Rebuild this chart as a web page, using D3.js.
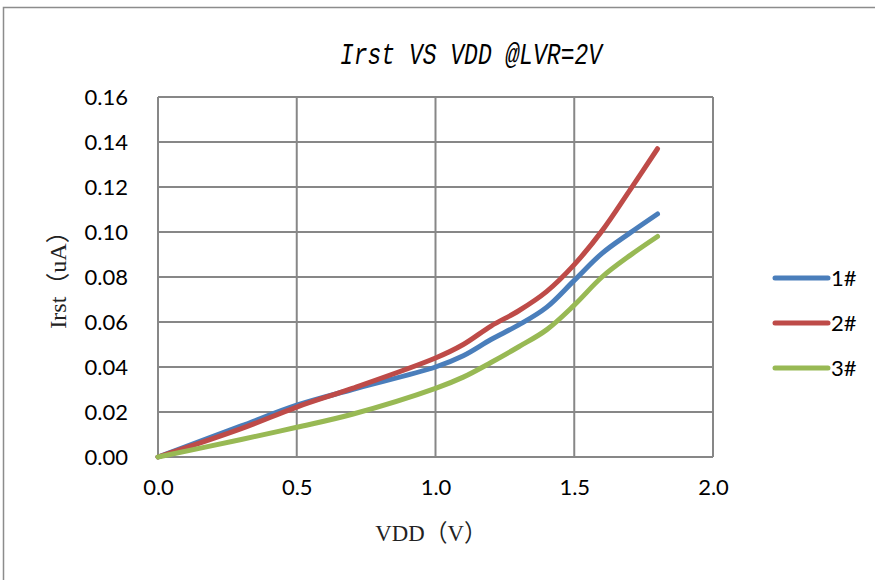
<!DOCTYPE html>
<html>
<head>
<meta charset="utf-8">
<script src="https://cdn.jsdelivr.net/npm/d3@7"></script>
<style>
  html, body { margin: 0; padding: 0; background: #fff; }
  svg { display: block; }
</style>
</head>
<body>
<svg id="chart" width="875" height="580"></svg>
<script>
// ---- data ----
const vdd      = [0, 0.3, 0.5, 0.7, 1.0, 1.1, 1.2, 1.3, 1.4, 1.5, 1.6, 1.7, 1.8];
const s1Values = [0, 0.0138, 0.0230, 0.0300, 0.0400, 0.0450, 0.0522, 0.0587, 0.0665, 0.0785, 0.0905, 0.0995, 0.1080];
const s2Values = [0, 0.0126, 0.0222, 0.0305, 0.0440, 0.0500, 0.0582, 0.0650, 0.0735, 0.0855, 0.1005, 0.1185, 0.1370];
const s3Values = [0, 0.0078, 0.0132, 0.0190, 0.0305, 0.0355, 0.0420, 0.0490, 0.0565, 0.0675, 0.0800, 0.0895, 0.0980];
const seriesNames = ["1#", "2#", "3#"];
const seriesColors = ["#4a7ebb", "#be4b48", "#98b954"];
const xTicks = [0, 0.5, 1.0, 1.5, 2.0];
const yTicks = [0, 0.02, 0.04, 0.06, 0.08, 0.10, 0.12, 0.14, 0.16];
const titleText = "Irst VS VDD @LVR=2V";
const xLabel = "VDD（V）";
const yLabel = "Irst（uA）";

const series = [s1Values, s2Values, s3Values].map((vals, i) => ({
  name: seriesNames[i], color: seriesColors[i],
  points: vdd.map((v, j) => ({ x: v, y: vals[j] }))
}));

// ---- layout ----
const svg = d3.select("#chart");
const plotL = 158, plotR = 713, plotT = 97, plotB = 457;
const x = d3.scaleLinear().domain([0, 2]).range([plotL, plotR]);
const y = d3.scaleLinear().domain([0, 0.16]).range([plotB, plotT]);
const gridColor = "#878787";
const tickFont = "Lato, 'Open Sans', sans-serif";
const labelFont = "'Liberation Serif', 'Noto Sans CJK SC', serif";

// outer chart border
svg.append("rect").attr("x", 3.5).attr("y", 7.5).attr("width", 900).attr("height", 600)
  .attr("fill", "#fff").attr("stroke", "#8c8c8c").attr("stroke-width", 1.5);

// gridlines
svg.append("g").selectAll("line").data(yTicks).join("line")
  .attr("x1", plotL).attr("x2", plotR)
  .attr("y1", d => y(d)).attr("y2", d => y(d))
  .attr("stroke", gridColor).attr("stroke-width", 2);
svg.append("g").selectAll("line").data(xTicks).join("line")
  .attr("y1", plotT).attr("y2", plotB)
  .attr("x1", d => x(d)).attr("x2", d => x(d))
  .attr("stroke", gridColor).attr("stroke-width", 2);

// axes labels via d3 axes (no domain / ticks lines)
const yAxis = d3.axisLeft(y).tickValues(yTicks).tickFormat(d3.format(".2f")).tickSize(0).tickPadding(30);
const gy = svg.append("g").attr("transform", `translate(${plotL},0)`).call(yAxis);
gy.select(".domain").remove();
gy.selectAll("text").attr("font-family", tickFont).attr("font-size", 22).attr("fill", "#000").attr("dy", "0.35em");

const xAxis = d3.axisBottom(x).tickValues(xTicks).tickFormat(d3.format(".1f")).tickSize(0).tickPadding(22);
const gx = svg.append("g").attr("transform", `translate(0,${plotB})`).call(xAxis);
gx.select(".domain").remove();
gx.selectAll("text").attr("font-family", tickFont).attr("font-size", 22).attr("fill", "#000").attr("dy", "0.71em");

// lines
const line = d3.line().x(d => x(d.x)).y(d => y(d.y)).curve(d3.curveCatmullRom.alpha(0.5));
svg.append("g").selectAll("path").data(series).join("path")
  .attr("d", d => line(d.points))
  .attr("fill", "none").attr("stroke", d => d.color)
  .attr("stroke-width", 5).attr("stroke-linecap", "round").attr("stroke-linejoin", "round");

// title
svg.append("text").attr("x", 471).attr("y", 0)
  .attr("transform", "translate(0,64) scale(1,1.3)")
  .attr("text-anchor", "middle")
  .attr("font-family", "'Liberation Mono', monospace").attr("font-style", "italic")
  .attr("font-size", 23).attr("fill", "#000")
  .text(titleText);

// axis titles
svg.append("text")
  .attr("transform", "translate(431,541) scale(0.95,1)")
  .attr("text-anchor", "middle")
  .attr("font-family", labelFont)
  .attr("font-size", 24).attr("fill", "#222")
  .text(xLabel);
svg.append("text")
  .attr("transform", `translate(66,274) rotate(-90)`)
  .attr("text-anchor", "middle")
  .attr("font-family", labelFont)
  .attr("font-size", 24).attr("fill", "#222")
  .text(yLabel);

// legend
const leg = svg.append("g").selectAll("g").data(series).join("g")
  .attr("transform", (d, i) => `translate(775,${278 + i * 45})`);
leg.append("line").attr("x1", 0).attr("x2", 53).attr("y1", 0).attr("y2", 0)
  .attr("stroke", d => d.color).attr("stroke-width", 5).attr("stroke-linecap", "round");
leg.append("text").attr("x", 56).attr("y", 0).attr("dy", "0.35em")
  .attr("font-family", tickFont).attr("font-size", 22).attr("fill", "#000")
  .text(d => d.name);
</script>
</body>
</html>
